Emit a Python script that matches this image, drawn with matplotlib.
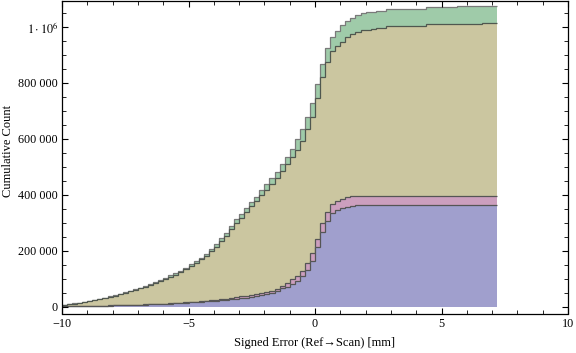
import numpy as np
import matplotlib
matplotlib.use('Agg')
import matplotlib.pyplot as plt
from matplotlib.ticker import MultipleLocator, FuncFormatter

plt.rcParams['font.family'] = ['Liberation Serif', 'DejaVu Serif']
plt.rcParams['mathtext.fontset'] = 'stix'

# bins of 0.2 mm from -10 to 7.2
bin_start = -10.0
bin_width = 0.2

# cumulative counts per bin, in thousands
cum_green = [7, 9, 11, 13, 16, 19, 23, 27, 31, 36,
             41, 46, 51, 56, 62, 68, 74, 80, 87, 95,
             103, 111, 119, 128, 138, 151, 163, 175, 188, 206,
             222, 244, 262, 288, 312, 331, 351, 373, 393, 417,
             437, 461, 482, 510, 536, 562, 598, 634, 679, 727,
             795, 868, 924, 963, 987, 1007, 1021, 1033, 1043, 1049,
             1053, 1055, 1057, 1058, 1063, 1063, 1063, 1066, 1066, 1066,
             1066, 1066, 1071, 1071, 1071, 1071, 1071, 1071, 1075, 1075,
             1075, 1075, 1075, 1075, 1075, 1075]
cum_olive = [6, 8, 10, 12, 15, 18, 22, 26, 30, 35,
             39, 44, 49, 54, 59, 65, 71, 77, 83, 91,
             98, 106, 114, 123, 133, 145, 157, 169, 181, 199,
             214, 234, 252, 276, 298, 318, 337, 358, 377, 400,
             418, 440, 459, 485, 510, 536, 560, 592, 634, 679,
             745, 820, 874, 915, 932, 947, 963, 974, 982, 989,
             991, 994, 996, 997, 1005, 1005, 1005, 1005, 1005, 1005,
             1005, 1005, 1010, 1010, 1010, 1010, 1010, 1010, 1010, 1010,
             1010, 1010, 1010, 1013, 1013, 1013]
cum_pink = [1, 1, 1.5, 2, 2, 2.5, 3, 3, 3.5, 4,
            4.5, 5, 5.5, 6, 6.5, 7, 7.5, 8, 9, 10,
            10.5, 11.5, 12.5, 13.5, 14.5, 16, 17, 18.5, 20, 22,
            24, 26, 28, 31, 33, 36, 39, 42, 45, 48,
            52, 57, 64, 75, 85, 97, 109, 127, 155, 190,
            240, 300, 339, 366, 379, 385, 391, 394, 396, 397,
            397, 397, 397, 397, 397, 397, 397, 397, 397, 397,
            397, 397, 397, 397, 397, 397, 397, 397, 397, 397,
            397, 397, 397, 397, 397, 397]
cum_purple = [0.5, 1, 1, 1.5, 2, 2, 2.5, 3, 3, 3.5,
              4, 4.5, 5, 5.5, 6, 6.5, 7, 7.5, 8, 9,
              9.5, 10.5, 11.5, 12.5, 13.5, 14.5, 15.5, 16.5, 18, 19.5,
              21, 22.5, 24, 26, 28, 30, 32, 35, 37, 40,
              43, 48, 55, 65, 71, 80, 92, 109, 131, 164,
              212, 268, 307, 336, 345, 351, 357, 360, 362, 362,
              362, 362, 362, 362, 362, 362, 362, 362, 362, 362,
              362, 362, 362, 362, 362, 362, 362, 362, 362, 362,
              362, 362, 362, 362, 362, 362]

layers = [
    (cum_green, '#9fcba9', '#7a7a7a'),
    (cum_olive, '#cbc6a0', '#4f574f'),
    (cum_pink, '#cc9fbe', '#555555'),
    (cum_purple, '#a09fcd', '#555555'),
]

n_bins = len(cum_green)
edges = bin_start + bin_width * np.arange(n_bins + 1)

fig = plt.figure(figsize=(5.76, 3.53), dpi=100)
ax = fig.add_axes([62 / 576, 1 - 313.5 / 353, 506 / 576, 312.5 / 353])

for vals, fc, ec in layers:
    v = np.array(vals) * 1000
    ax.stairs(v, edges, fill=True, baseline=0, facecolor=fc, edgecolor='none', linewidth=0)
    ax.stairs(v, edges, fill=False, baseline=None, color=ec, linewidth=0.9)

ax.set_xlim(-10, 10)
ax.set_ylim(-25000, 1093000)

ax.xaxis.set_major_locator(MultipleLocator(5))
ax.xaxis.set_minor_locator(MultipleLocator(1))
ax.yaxis.set_major_locator(MultipleLocator(200000))
ax.yaxis.set_minor_locator(MultipleLocator(50000))


def yfmt(v, pos):
    if v >= 1e6 - 1:
        return r'$1\cdot 10^{6}$'
    if v == 0:
        return '0'
    s = f'{int(round(v)):,}'.replace(',', ' ')
    return s


ax.yaxis.set_major_formatter(FuncFormatter(yfmt))
ax.tick_params(which='both', direction='in', top=True, right=True, labelsize=8.7, pad=3)
ax.tick_params(which='major', length=4.5, width=0.8)
ax.tick_params(which='minor', length=2.8, width=0.6)
for sp in ax.spines.values():
    sp.set_linewidth(0.9)

ax.set_xlabel('Signed Error (Ref\u2192Scan) [mm]', fontsize=9, labelpad=5)
ax.set_ylabel('Cumulative Count', fontsize=9)
ax.yaxis.set_label_coords(-0.095, 0.52)

fig.savefig('out.png', dpi=100)
